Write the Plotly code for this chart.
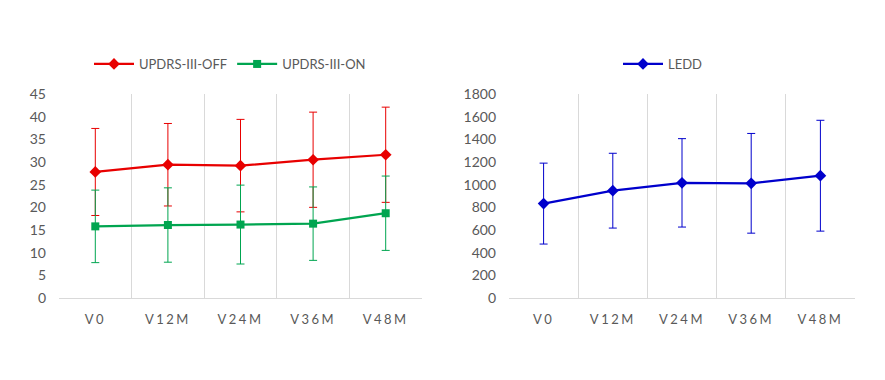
import plotly.graph_objects as go

visits = ["V0", "V12M", "V24M", "V36M", "V48M"]

updrs_off = [27.8, 29.4, 29.2, 30.5, 31.6]
updrs_off_sd = [9.6, 9.1, 10.2, 10.5, 10.5]
updrs_on = [15.8, 16.1, 16.2, 16.4, 18.7]
updrs_on_sd = [8.0, 8.2, 8.7, 8.1, 8.2]

ledd = [833, 947, 1016, 1012, 1079]
ledd_sd = [357, 330, 390, 440, 489]

left_ticks = [0, 5, 10, 15, 20, 25, 30, 35, 40, 45]
right_ticks = [0, 200, 400, 600, 800, 1000, 1200, 1400, 1600, 1800]

RED = "#E80000"
GREEN = "#00A550"
BLUE = "#0000CC"
TXT = "#595959"
GRID = "#D9D9D9"
FONT = "Lato"

fig = go.Figure()

fig.add_trace(go.Scatter(
    x=visits, y=updrs_off, name="UPDRS-III-OFF", mode="lines+markers",
    line=dict(color=RED, width=2.25), marker=dict(symbol="diamond", size=9, color=RED),
    error_y=dict(type="data", array=updrs_off_sd, visible=True, color=RED, thickness=1, width=4),
    xaxis="x", yaxis="y", legend="legend"))
fig.add_trace(go.Scatter(
    x=visits, y=updrs_on, name="UPDRS-III-ON", mode="lines+markers",
    line=dict(color=GREEN, width=2.25), marker=dict(symbol="square", size=8, color=GREEN),
    error_y=dict(type="data", array=updrs_on_sd, visible=True, color=GREEN, thickness=1, width=4),
    xaxis="x", yaxis="y", legend="legend"))
fig.add_trace(go.Scatter(
    x=visits, y=ledd, name="LEDD", mode="lines+markers",
    line=dict(color=BLUE, width=2.25), marker=dict(symbol="diamond", size=9, color=BLUE),
    error_y=dict(type="data", array=ledd_sd, visible=True, color=BLUE, thickness=1, width=4),
    xaxis="x2", yaxis="y2", legend="legend2"))

xcommon = dict(
    type="category", showgrid=True, gridcolor=GRID, gridwidth=1,
    tickson="boundaries", ticks="", showline=True, linecolor=GRID, linewidth=1,
    mirror=False, tickfont=dict(family=FONT, size=13, color=TXT), ticklabelstandoff=9,
    zeroline=False, range=[-0.5, 4.5])
ycommon = dict(
    showgrid=False, zeroline=False, showline=False, ticks="", ticklabelstandoff=12,
    tickfont=dict(family=FONT, size=14, color=TXT))

fig.update_layout(
    width=885, height=380,
    margin=dict(l=0, r=0, t=0, b=0, autoexpand=False),
    paper_bgcolor="white", plot_bgcolor="white",
    font=dict(family=FONT, color=TXT),
    xaxis=dict(domain=[59/885, 422/885], anchor="y", **xcommon),
    yaxis=dict(domain=[(380-298)/380, (380-94)/380], anchor="x", range=[0, 45],
               tickvals=left_ticks, **ycommon),
    xaxis2=dict(domain=[509/885, 855/885], anchor="y2", **xcommon),
    yaxis2=dict(domain=[(380-298)/380, (380-94)/380], anchor="x2", range=[0, 1800],
                tickvals=right_ticks, **ycommon),
    legend=dict(orientation="h", x=230/885, y=1-64/380, xanchor="center", yanchor="middle",
                font=dict(family=FONT, size=13, color=TXT), itemwidth=40,
                bgcolor="rgba(0,0,0,0)"),
    legend2=dict(orientation="h", x=663/885, y=1-64/380, xanchor="center", yanchor="middle",
                 font=dict(family=FONT, size=13, color=TXT), itemwidth=40,
                 bgcolor="rgba(0,0,0,0)"),
)

post = (
    "document.body.style.margin='0';document.body.style.overflow='hidden';"
    "document.querySelectorAll('.xtick text, .x2tick text').forEach(function(t){"
    "t.style.letterSpacing='2.5px';});"
)

fig.write_html("out.html", config={"displayModeBar": False}, post_script=post)
